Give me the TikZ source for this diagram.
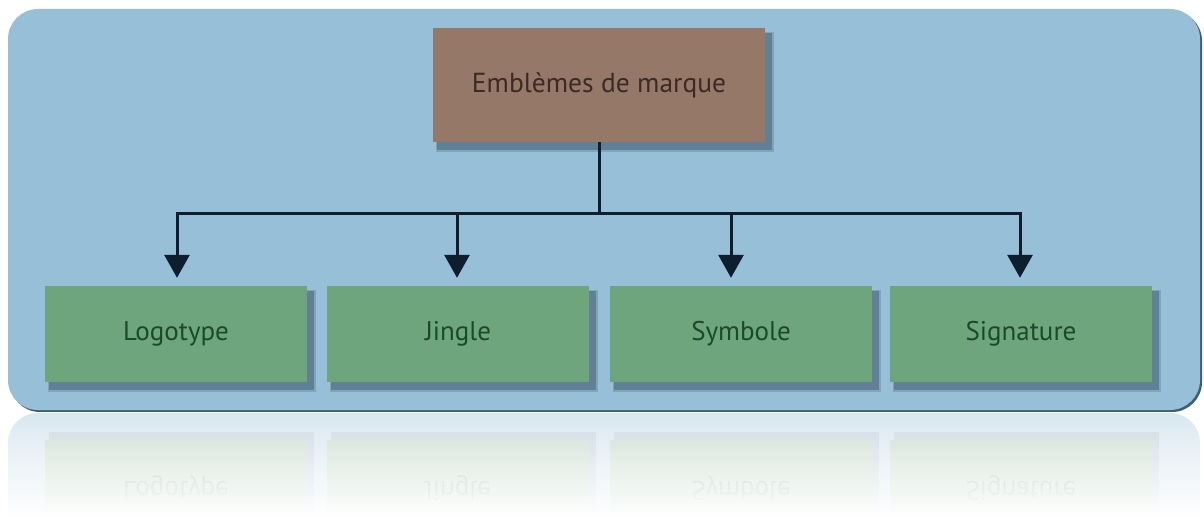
\documentclass[tikz,border=0pt]{standalone}
\usepackage{fontspec}
\setmainfont{PT Sans}
\usetikzlibrary{arrows.meta}
\definecolor{bgblue}{HTML}{97BFD8}
\definecolor{bgedge}{HTML}{3F5D73}
\definecolor{brownbox}{HTML}{957868}
\definecolor{greenbox}{HTML}{6FA57C}
\definecolor{shadowc}{HTML}{3A566C}
\definecolor{linec}{HTML}{0F1E2E}
\definecolor{browntext}{HTML}{3A2C24}
\definecolor{greentext}{HTML}{1B4A2A}
\tikzset{
  box/.style={draw=none, minimum width=262pt, minimum height=96pt, inner sep=0pt, fill=greenbox, text=greentext, font=\fontsize{27}{30}\selectfont},
  topbox/.style={draw=none, minimum width=332pt, minimum height=114pt, inner sep=0pt, fill=brownbox, text=browntext, font=\fontsize{27.5}{30}\selectfont},
  conn/.style={draw=linec, line width=3pt},
  arr/.style={conn, -{Triangle[length=23pt,width=25pt]}, shorten >=8pt},
  refl/.style={draw=none, minimum width=262pt, minimum height=96pt, inner sep=0pt, fill=greenbox, text=greentext, font=\fontsize{27}{30}\selectfont, yscale=-1}
}
\begin{document}
\begin{tikzpicture}[x=1pt,y=-1pt]
\useasboundingbox (0,0) rectangle (1204,519);
\fill[white] (0,0) rectangle (1204,519);
% background panel
\fill[bgedge, rounded corners=30pt] (10,11) rectangle (1202,412);
\fill[bgblue, rounded corners=30pt] (8,9) rectangle (1200,410);
% shadows
\foreach \x/\y/\w/\h in {433/28/332/114, 45/286/262/96, 327/286/262/96, 610/286/262/96, 890/286/262/96}{
  \fill[shadowc, opacity=0.25] (\x+3,\y+4) rectangle (\x+\w+9,\y+\h+10);
  \fill[shadowc, opacity=0.45] (\x+4,\y+5) rectangle (\x+\w+7,\y+\h+8);
}
% nodes
\node[topbox] (top) at (599,85) {Emblèmes de marque};
\node[box] (n1) at (176,334) {Logotype};
\node[box] (n2) at (458,334) {Jingle};
\node[box] (n3) at (741,334) {Symbole};
\node[box] (n4) at (1021,334) {Signature};
% connectors
\coordinate (hub) at (599,213);
\coordinate (b1) at (177,213);
\coordinate (b2) at (457,213);
\coordinate (b3) at (731,213);
\coordinate (b4) at (1020,213);
\draw[conn] (top.south) -- (hub);
\draw[conn, line cap=rect] (b1) -- (b4);
\draw[arr] (b1) -- (b1 |- n1.north);
\draw[arr] (b2) -- (b2 |- n2.north);
\draw[arr] (b3) -- (b3 |- n3.north);
\draw[arr] (b4) -- (b4 |- n4.north);
% reflection
\begin{scope}
\clip (0,412) rectangle (1204,519);
\fill[bgblue, rounded corners=30pt] (8,413) rectangle (1200,814);
\foreach \x/\y/\w/\h in {45/440/262/96, 327/440/262/96, 610/440/262/96, 890/440/262/96}{
  \fill[shadowc, opacity=0.4] (\x+4,\y-8) rectangle (\x+\w+7,\y+\h-5);
}
\node[refl] (r1) at (176,488) {Logotype};
\node[refl] (r2) at (458,488) {Jingle};
\node[refl] (r3) at (741,488) {Symbole};
\node[refl] (r4) at (1021,488) {Signature};
\foreach \i in {0,...,53}{
  \pgfmathsetmacro{\op}{min(1,0.62+0.38*(\i/53)^0.8)}
  \fill[white, opacity=\op] (0,412+2*\i) rectangle (1204,414+2*\i);
}
\end{scope}
\end{tikzpicture}
\end{document}
